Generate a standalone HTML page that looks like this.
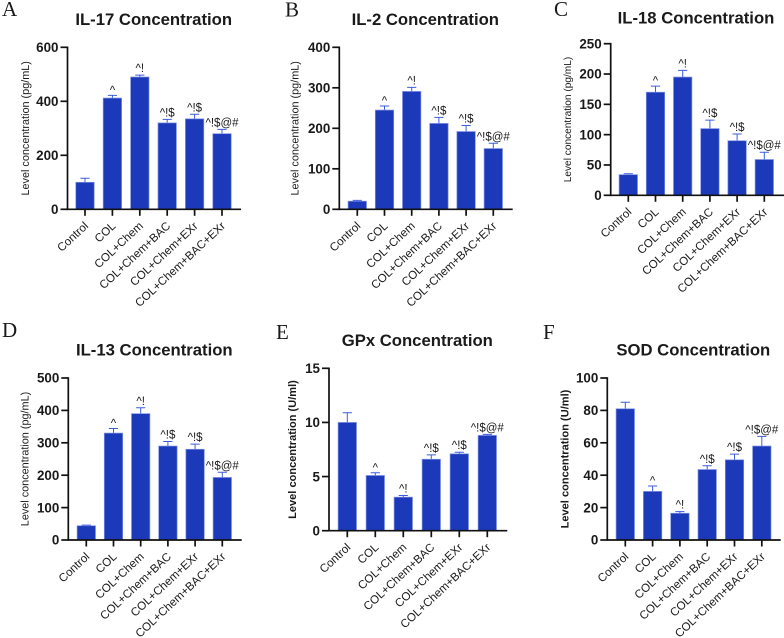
<!DOCTYPE html>
<html>
<head>
<meta charset="utf-8">
<title>Cytokine concentration panels</title>
<style>
html,body{margin:0;padding:0;background:#fff;}
svg{display:block;}
text{font-family:"Liberation Sans",Arial,sans-serif;fill:#1a1a1a;}
</style>
</head>
<body>
<svg id="figure" width="784" height="638" viewBox="0 0 784 638" xmlns="http://www.w3.org/2000/svg"></svg>
<script>
const categories = ['Control','COL','COL+Chem','COL+Chem+BAC','COL+Chem+EXr','COL+Chem+BAC+EXr'];
const markers = ['','^','^!','^!$','^!$','^!$@#'];
const markersEF = ['','^','^!','^!$','^!$','^!$@#'];

const il17Values = [100,412,490,320,335,280];
const il17Errors = [15,10,7,13,17,16];
const il17Ticks = [0,200,400,600];

const il2Values = [20,245,291,212,192,150];
const il2Errors = [2,10,10,15,15,13];
const il2Ticks = [0,100,200,300,400];

const il18Values = [34,170,195,110,90,59];
const il18Errors = [1.5,10,11,14,11,12];
const il18Ticks = [0,50,100,150,200,250];

const il13Values = [44,330,390,290,280,193];
const il13Errors = [2,14,18,14,16,16];
const il13Ticks = [0,100,200,300,400,500];

const gpxValues = [10,5.1,3.1,6.6,7.1,8.8];
const gpxErrors = [0.9,0.25,0.15,0.4,0.15,0.1];
const gpxTicks = [0,5,10,15];

const sodValues = [81,30,16.5,43.5,49.5,58];
const sodErrors = [4,3.3,1,2.3,3.5,6];
const sodTicks = [0,20,40,60,80,100];

const panels = [
  {key:'a',letter:'A',lx:2,ly:16,title:'IL-17 Concentration',tx:153.7,ty:25,yTitle:'Level concentration (pg/mL)',bold:false,yGap:38.5,yFont:10.85,
   x0:67.5,x1:241,top:47.3,bot:209.3,first:85,step:27.4,vals:il17Values,errs:il17Errors,ticks:il17Ticks,marks:markers},
  {key:'b',letter:'B',lx:285,ly:16.5,title:'IL-2 Concentration',tx:425.3,ty:25,yTitle:'Level concentration (pg/mL)',bold:false,yGap:41,yFont:10.85,
   x0:339.3,x1:512.7,top:47.3,bot:209.3,first:357.3,step:27.2,vals:il2Values,errs:il2Errors,ticks:il2Ticks,marks:markers},
  {key:'c',letter:'C',lx:554,ly:16,title:'IL-18 Concentration',tx:696,ty:23.5,yTitle:'Level concentration (pg/mL)',bold:false,yGap:39.7,yFont:10.15,
   x0:610.7,x1:784,top:43.7,bot:195.3,first:628.3,step:27.2,vals:il18Values,errs:il18Errors,ticks:il18Ticks,marks:markers},
  {key:'d',letter:'D',lx:2,ly:337,title:'IL-13 Concentration',tx:154.3,ty:355.5,yTitle:'Level concentration (pg/mL)',bold:false,yGap:40,yFont:10.85,
   x0:68.3,x1:241.7,top:378,bot:540,first:86.3,step:27.2,vals:il13Values,errs:il13Errors,ticks:il13Ticks,marks:markers},
  {key:'e',letter:'E',lx:276,ly:339,title:'GPx Concentration',tx:417.3,ty:346,yTitle:'Level concentration (U/ml)',bold:true,yGap:33,yFont:11.05,
   x0:329,x1:507.3,top:368.3,bot:530.7,first:347.3,step:28,vals:gpxValues,errs:gpxErrors,ticks:gpxTicks,marks:markersEF},
  {key:'f',letter:'F',lx:543,ly:339,title:'SOD Concentration',tx:693.3,ty:355.5,yTitle:'Level concentration (U/ml)',bold:true,yGap:39,yFont:11.05,
   x0:607.3,x1:780.7,top:378,bot:540,first:625.3,step:27.3,vals:sodValues,errs:sodErrors,ticks:sodTicks,marks:markersEF}
];

const NS = 'http://www.w3.org/2000/svg';
const root = document.getElementById('figure');

function make(parent, tag, attrs, txt){
  const el = document.createElementNS(NS, tag);
  for (const k in attrs) el.setAttribute(k, attrs[k]);
  if (txt !== undefined) el.textContent = txt;
  parent.appendChild(el);
  return el;
}

panels.forEach(function(p){
  const g = make(root,'g',{});
  
  

  const maxV = p.ticks[p.ticks.length-1];
  const yScale = function(v){ return p.bot - (v/maxV)*(p.bot-p.top); };
  const xScale = function(i){ return p.first + i*p.step; };
  const barW = 18.4;

  const letter = make(g,'text',{x:p.lx,y:p.ly,'font-size':21,style:'font-family:"Liberation Serif",serif'},p.letter);
  
  

  const title = make(g,'text',{x:p.tx,y:p.ty,'font-size':16.7,'font-weight':'bold','text-anchor':'middle'},p.title);
  
  

  const midY = (p.top+p.bot)/2;
  const yx = p.x0 - p.yGap;
  const yt = make(g,'text',{x:yx,y:midY,'font-size':p.yFont,'font-weight':p.bold?'bold':'normal','text-anchor':'middle',
    transform:'rotate(-90 '+yx+' '+midY+')'},p.yTitle);
  
  

  p.vals.forEach(function(v,i){
    const cx = xScale(i), y = yScale(v), errY = yScale(v + p.errs[i]);
    const err = make(g,'path',{d:'M'+cx+' '+y+'V'+errY+'M'+(cx-4.6)+' '+errY+'H'+(cx+4.6),stroke:'#3c5ddb','stroke-width':1,fill:'none'});
    
    

    const bar = make(g,'rect',{x:cx-barW/2,y:y,width:barW,height:p.bot-y,fill:'#1c39b9',stroke:'#7d90e6','stroke-width':0.7});
    
    

    if (p.marks[i]) {
      const mk = make(g,'text',{x:cx,y:errY-(p.marks[i]==='^'?1.5:3),'font-size':11.5,'text-anchor':'middle'},p.marks[i]);
      
      
    }

    const tick = make(g,'line',{x1:cx,x2:cx,y1:p.bot,y2:p.bot+6.5,stroke:'#111','stroke-width':1.7});
    
    

    const lx = cx + 4, ly = p.bot + 17.5;
    const lab = make(g,'text',{x:lx,y:ly,'font-size':11.6,'text-anchor':'end',fill:'#222',
      transform:'rotate(-43 '+lx+' '+ly+')'},categories[i]);
    
    
  });

  p.ticks.forEach(function(t){
    const y = yScale(t);
    const tk = make(g,'line',{x1:p.x0-7,x2:p.x0,y1:y,y2:y,stroke:'#111','stroke-width':1.7});
    
    
    const tl = make(g,'text',{x:p.x0-9,y:y+4.7,'font-size':13.4,'font-weight':'bold','text-anchor':'end'},String(t));
    
    
  });

  const yAxis = make(g,'line',{x1:p.x0,x2:p.x0,y1:p.top-0.8,y2:p.bot+0.8,stroke:'#111','stroke-width':1.7});
  
  
  const xAxis = make(g,'line',{x1:p.x0,x2:p.x1,y1:p.bot,y2:p.bot,stroke:'#111','stroke-width':1.7});
  
  
});
</script>
</body>
</html>
